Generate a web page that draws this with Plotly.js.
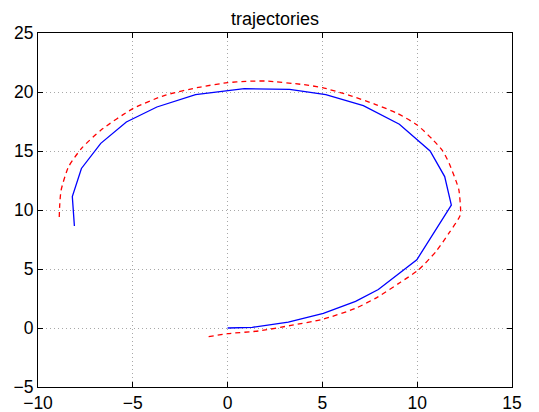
<!DOCTYPE html>
<html>
<head>
<meta charset="utf-8">
<script src="https://cdn.plot.ly/plotly-3.0.1.min.js"></script>
<style>html,body{margin:0;padding:0;background:#fff;}#chart{width:539px;height:412px;}</style>
</head>
<body>
<div id="chart"></div>
<script>
// Blue solid trajectory
const blueX = [0, 1.3, 3.2, 5.05, 6.75, 7.95, 9.98, 11.8, 11.45, 10.68, 9.06, 7.16, 5.18, 3.27, 0.88, -1.69, -3.73, -5.34, -6.69, -7.71, -8.19, -8.08];
const blueY = [0, 0.06, 0.5, 1.24, 2.25, 3.26, 5.78, 10.42, 12.83, 15.0, 17.27, 18.85, 19.77, 20.22, 20.28, 19.77, 18.73, 17.46, 15.65, 13.52, 11.13, 8.65];
// Red dashed trajectory
const redX = [-1.0, 0, 1.65, 3.34, 5.0, 6.74, 7.93, 9.12, 10.05, 11.0, 11.7, 12.24, 12.29, 12.2, 12.03, 11.69, 11.35, 10.84, 10.0, 8.98, 7.78, 6.42, 5.0, 4.03, 1.99, 0.97, 0, -1.44, -3.31, -5.0, -6.69, -7.71, -8.39, -8.78, -8.86, -8.88];
const redY = [-0.73, -0.48, -0.25, 0.22, 0.73, 1.66, 2.64, 3.88, 4.9, 6.5, 8.1, 9.44, 9.86, 11.69, 12.54, 13.94, 15.0, 15.93, 17.2, 18.17, 18.96, 19.72, 20.37, 20.62, 20.93, 20.9, 20.79, 20.42, 19.72, 18.59, 16.76, 15.21, 13.66, 11.69, 10.28, 9.28];
const xTicks = [-10, -5, 0, 5, 10, 15];
const yTicks = [-5, 0, 5, 10, 15, 20, 25];
const titleText = 'trajectories';

const fontFam = 'Liberation Sans, Arial, Helvetica, sans-serif';
const traces = [
  {x: blueX, y: blueY, type: 'scatter', mode: 'lines', line: {color: '#0000ff', width: 1.3}, hoverinfo: 'none'},
  {x: redX, y: redY, type: 'scatter', mode: 'lines', line: {color: '#ff0000', width: 1.3, dash: '5px,4px', shape: 'spline', smoothing: 0.6}, hoverinfo: 'none'}
];
const axisCommon = {
  showline: true, linecolor: '#000', linewidth: 1, mirror: 'ticks',
  ticks: 'inside', ticklen: 5, tickcolor: '#000', tickwidth: 1,
  showgrid: true, gridcolor: '#a8a8a8', griddash: '1px,3px', gridwidth: 1,
  zeroline: false, tickfont: {family: fontFam, size: 17.5, color: '#000'}
};
const layout = {
  width: 539, height: 412,
  margin: {l: 38, r: 27, t: 33, b: 25},
  paper_bgcolor: '#fff', plot_bgcolor: '#fff',
  showlegend: false,
  title: {text: titleText, x: 0.5, xref: 'paper', xanchor: 'center', y: 1 - 19/412, yref: 'container', yanchor: 'middle', font: {family: fontFam, size: 18, color: '#000'}},
  xaxis: Object.assign({}, axisCommon, {range: [-10, 15], tickvals: xTicks, ticktext: xTicks.map(v => String(v).replace('-', '\u2212'))}),
  yaxis: Object.assign({}, axisCommon, {range: [-5, 25], tickvals: yTicks, ticktext: yTicks.map(v => String(v).replace('-', '\u2212'))})
};
Plotly.newPlot('chart', traces, layout, {staticPlot: true, displayModeBar: false});
</script>
</body>
</html>
